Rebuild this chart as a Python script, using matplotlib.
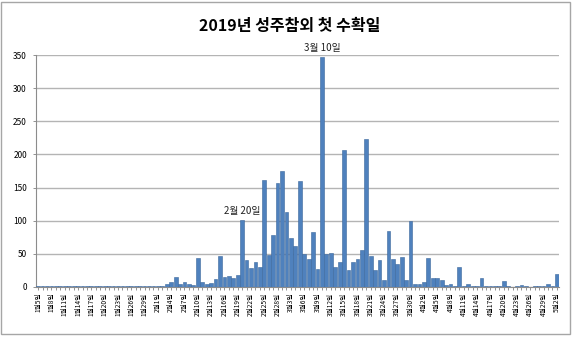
import datetime as dt
import matplotlib
matplotlib.use("Agg")
import matplotlib.pyplot as plt
from matplotlib.patches import Rectangle

plt.rcParams["font.family"] = ["Noto Sans CJK KR", "DejaVu Sans"]

# daily counts, 1월5일 .. 5월2일 (2019)
start = dt.date(2019, 1, 5)
counts = [
    1, 2, 1, 1, 2, 1, 1, 2, 1, 1, 1, 2, 1, 1, 2, 1, 1, 1, 2, 1, 1, 2, 1, 1, 1, 2, 1,  # Jan
    1, 2, 4, 8, 15, 4, 7, 5, 3, 44, 8, 5, 6, 12, 46, 15, 16, 13, 18, 101,             # Feb 1-20
    40, 28, 38, 30, 161, 48, 79, 157,                                                  # Feb 21-28
    175, 113, 74, 62, 160, 49, 42, 83, 27, 347, 50, 52, 30, 37, 206, 25, 37, 42, 56,   # Mar 1-19
    223, 47, 25, 40, 10, 85, 42, 34, 45, 11, 100, 4,                                   # Mar 20-31
    4, 8, 43, 14, 14, 11, 3, 4, 1, 30, 1, 4, 2, 2, 14, 1, 1, 1, 1, 9,                  # Apr 1-20
    1, 0, 1, 3, 1, 0, 1, 1, 1, 4,                                                      # Apr 21-30
    1, 20,                                                                             # May 1-2
]
dates = [start + dt.timedelta(days=i) for i in range(len(counts))]
labels = [f"{d.month}월{d.day}일" if i % 3 == 0 else "" for i, d in enumerate(dates)]

# annotated days
notes = {"2월 20일": dt.date(2019, 2, 20), "3월 10일": dt.date(2019, 3, 10)}

fig = plt.figure(figsize=(5.8, 3.4), dpi=100)
ax = fig.add_axes([0.062, 0.156, 0.902, 0.682])

x = list(range(len(counts)))
ax.bar(x, counts, width=0.85, color="#4F81BD", edgecolor="#3B679C", linewidth=0.4, zorder=3)

ax.set_xlim(-0.5, len(counts) - 0.5)
ax.set_ylim(0, 350)
ax.set_yticks(range(0, 351, 50))
ax.set_xticks(x)
ax.set_xticklabels(labels, rotation=90, fontsize=4.8, linespacing=1.0)
ax.tick_params(axis="x", length=2.5, width=0.6, color="#808080", pad=1.5)
ax.tick_params(axis="y", length=2.5, width=0.6, color="#808080", labelsize=6, pad=4)

ax.grid(axis="y", color="#b4b4b4", linewidth=1.0, zorder=0)
for side in ["top", "right"]:
    ax.spines[side].set_visible(False)
for side in ["left", "bottom"]:
    ax.spines[side].set_color("#8c8c8c")
    ax.spines[side].set_linewidth(0.8)

for text, d in notes.items():
    i = (d - start).days
    ax.annotate(text, (i, counts[i]), xytext=(0, 3), textcoords="offset points",
                ha="center", va="bottom", fontsize=7, color="#222222", annotation_clip=False)

fig.text(0.5, 0.925, "2019년 성주참외 첫 수확일", ha="center", va="center",
         fontsize=11.5, fontweight="bold")

fig.patches.append(Rectangle((0.002, 0.017), 0.98, 0.978, transform=fig.transFigure,
                             fill=False, edgecolor="#a6a6a6", linewidth=1.0))

fig.savefig("out.png", dpi=100)
